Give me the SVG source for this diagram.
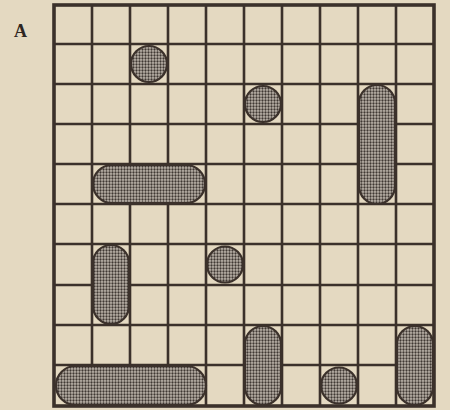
<svg xmlns="http://www.w3.org/2000/svg" width="450" height="410" viewBox="0 0 450 410">
<defs>
<pattern id="dots" width="3" height="3" patternUnits="userSpaceOnUse">
<rect width="3" height="3" fill="#bdb5ab"/>
<circle cx="1.5" cy="1.5" r="1.15" fill="#3f3833"/>
</pattern>
<style>
.grid line{stroke:#3b312b;stroke-width:2.6}
.ship{fill:url(#dots);stroke:#3b312b;stroke-width:2.2}
.lbl{font-family:"Liberation Serif",serif;font-weight:bold;font-size:18px;fill:#2e2622}
</style>
</defs>
<rect width="450" height="410" fill="#e4d9c1"/>
<text class="lbl" x="14" y="37">A</text>
<g id="grid" class="grid">
<line x1="92" y1="5" x2="92" y2="406"/>
<line x1="130" y1="5" x2="130" y2="406"/>
<line x1="168" y1="5" x2="168" y2="406"/>
<line x1="206" y1="5" x2="206" y2="406"/>
<line x1="244" y1="5" x2="244" y2="406"/>
<line x1="282" y1="5" x2="282" y2="406"/>
<line x1="320" y1="5" x2="320" y2="406"/>
<line x1="358" y1="5" x2="358" y2="406"/>
<line x1="396" y1="5" x2="396" y2="406"/>
<line x1="54" y1="44" x2="434" y2="44"/>
<line x1="54" y1="84" x2="434" y2="84"/>
<line x1="54" y1="124" x2="434" y2="124"/>
<line x1="54" y1="164" x2="434" y2="164"/>
<line x1="54" y1="204" x2="434" y2="204"/>
<line x1="54" y1="244" x2="434" y2="244"/>
<line x1="54" y1="285" x2="434" y2="285"/>
<line x1="54" y1="325" x2="434" y2="325"/>
<line x1="54" y1="365" x2="434" y2="365"/>
<rect x="54" y="5" width="380" height="401" fill="none" stroke="#3b312b" stroke-width="3.6"/>
</g>
<g id="ships">
<circle id="s1" class="ship" cx="149" cy="64" r="18"/>
<circle id="s2" class="ship" cx="263" cy="104" r="18"/>
<circle id="s3" class="ship" cx="225" cy="264.5" r="18"/>
<circle id="s4" class="ship" cx="339" cy="385.5" r="18"/>
<rect id="s5" class="ship" x="359" y="85" width="36" height="119" rx="18"/>
<rect id="s6" class="ship" x="93" y="165" width="112" height="38" rx="19"/>
<rect id="s7" class="ship" x="93" y="245" width="36" height="79" rx="18"/>
<rect id="s8" class="ship" x="245" y="326" width="36" height="79" rx="18"/>
<rect id="s9" class="ship" x="397" y="326" width="36" height="79" rx="18"/>
<rect id="s10" class="ship" x="56" y="366" width="150" height="39" rx="19.5"/>
</g>
</svg>
